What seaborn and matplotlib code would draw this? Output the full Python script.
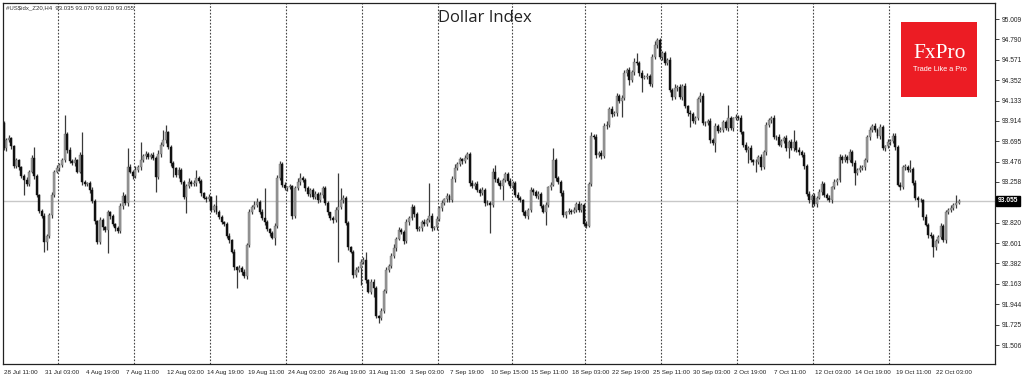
import numpy as np
import pandas as pd
import seaborn as sns
import matplotlib
matplotlib.use("Agg")
import matplotlib.pyplot as plt
from matplotlib import transforms
from matplotlib.patches import Rectangle

# ---------------- data (H4 candles, #US$idx) ----------------
first_open = 93.89
closes = [
    93.62, 93.71, 93.73, 93.64, 93.43, 93.49, 93.42, 93.32, 93.28, 93.24,
    93.37, 93.52, 93.32, 93.12, 92.95, 92.89, 92.61, 92.68, 92.90, 93.12,
    93.37, 93.41, 93.44, 93.49, 93.77, 93.60, 93.48, 93.46, 93.49, 93.37,
    93.55, 93.26, 93.24, 93.25, 93.17, 93.05, 92.84, 92.61, 92.85, 92.77,
    92.74, 92.93, 92.89, 92.81, 92.76, 92.73, 93.00, 93.11, 93.03, 93.42,
    93.37, 93.32, 93.39, 93.42, 93.49, 93.54, 93.56, 93.53, 93.55, 93.52,
    93.31, 93.56, 93.66, 93.71, 93.79, 93.63, 93.46, 93.41, 93.33, 93.39,
    93.26, 93.10, 93.21, 93.26, 93.24, 93.25, 93.30, 93.27, 93.14, 93.09,
    93.07, 93.10, 92.96, 93.00, 92.94, 92.88, 92.83, 92.81, 92.68, 92.63,
    92.51, 92.34, 92.31, 92.33, 92.29, 92.25, 92.58, 92.94, 92.99, 93.01,
    93.04, 92.94, 92.87, 92.83, 92.75, 92.71, 92.66, 92.79, 93.30, 93.45,
    93.23, 93.19, 93.20, 93.21, 92.89, 93.19, 93.26, 93.30, 93.28, 93.19,
    93.13, 93.17, 93.10, 93.13, 93.06, 93.12, 93.19, 93.03, 92.93, 92.87,
    92.85, 92.96, 92.99, 93.06, 93.09, 92.82, 92.56, 92.51, 92.26, 92.31,
    92.33, 92.40, 92.42, 92.20, 92.08, 92.18, 92.12, 91.82, 91.80, 91.87,
    92.09, 92.31, 92.36, 92.46, 92.55, 92.65, 92.74, 92.72, 92.62, 92.83,
    92.87, 92.99, 92.91, 92.75, 92.76, 92.83, 92.81, 92.85, 92.89, 92.76,
    92.77, 92.86, 92.98, 93.03, 93.07, 93.11, 93.06, 93.29, 93.41, 93.45,
    93.50, 93.48, 93.52, 93.56, 93.25, 93.21, 93.24, 93.17, 93.14, 93.17,
    93.03, 93.03, 93.01, 93.37, 93.29, 93.25, 93.21, 93.28, 93.34, 93.27,
    93.21, 93.25, 93.12, 93.09, 93.06, 92.93, 92.89, 92.96, 93.17, 93.15,
    93.11, 93.13, 93.00, 92.94, 93.01, 93.20, 93.23, 93.49, 93.30, 93.26,
    93.14, 92.90, 92.93, 92.95, 92.94, 92.96, 93.02, 92.96, 93.01, 92.81,
    92.79, 93.24, 93.75, 93.74, 93.55, 93.57, 93.54, 93.86, 93.87, 94.04,
    93.99, 94.00, 94.18, 94.13, 94.16, 94.43, 94.46, 94.35, 94.44, 94.55,
    94.54, 94.43, 94.38, 94.39, 94.40, 94.31, 94.60, 94.73, 94.78, 94.60,
    94.64, 94.54, 94.57, 94.25, 94.17, 94.27, 94.28, 94.17, 94.29, 94.07,
    94.00, 93.99, 93.91, 93.94, 94.15, 94.18, 93.89, 93.89, 93.91, 93.71,
    93.68, 93.86, 93.81, 93.82, 93.90, 93.84, 93.94, 93.84, 93.94, 93.96,
    93.95, 93.79, 93.66, 93.60, 93.62, 93.49, 93.47, 93.47, 93.53, 93.42,
    93.58, 93.87, 93.92, 93.95, 93.74, 93.74, 93.66, 93.70, 93.73, 93.62,
    93.69, 93.62, 93.69, 93.60, 93.58, 93.55, 93.43, 93.13, 93.06, 93.11,
    93.02, 93.09, 93.15, 93.24, 93.12, 93.09, 93.06, 93.20, 93.26, 93.28,
    93.53, 93.49, 93.53, 93.49, 93.58, 93.46, 93.35, 93.39, 93.41, 93.42,
    93.49, 93.74, 93.82, 93.86, 93.82, 93.75, 93.85, 93.62, 93.64, 93.69,
    93.70, 93.75, 93.63, 93.23, 93.20, 93.42, 93.42, 93.39, 93.40, 93.25,
    93.09, 93.06, 93.06, 92.88, 92.80, 92.69, 92.68, 92.56, 92.62, 92.67,
    92.79, 92.63, 92.93, 92.96, 92.98, 93.01, 93.035, 93.055,
]
# wick lengths above / below the body, in hundredths of a point
upper_wick = [
    2, 2, 3, 1, 2, 3, 2, 1, 2, 3, 2, 3, 11, 2, 1, 2, 3, 2, 2, 3,
    2, 3, 2, 3, 21, 2, 3, 2, 4, 2, 3, 25, 2, 1, 2, 3, 2, 1, 3, 2,
    2, 3, 2, 2, 1, 2, 3, 4, 2, 20, 3, 2, 4, 2, 20, 2, 3, 2, 2, 3,
    2, 4, 3, 11, 8, 2, 3, 2, 1, 3, 2, 2, 3, 4, 2, 3, 9, 2, 2, 1,
    2, 3, 1, 2, 12, 2, 2, 1, 2, 3, 2, 3, 2, 4, 2, 3, 2, 3, 2, 4,
    5, 2, 3, 32, 2, 1, 2, 3, 3, 3, 2, 3, 2, 3, 2, 3, 4, 5, 2, 2,
    3, 2, 2, 3, 2, 3, 3, 2, 2, 1, 2, 3, 36, 13, 3, 2, 2, 1, 2, 3,
    2, 3, 3, 9, 2, 3, 4, 2, 1, 3, 2, 3, 2, 3, 4, 2, 3, 2, 2, 3,
    2, 3, 2, 2, 3, 2, 3, 2, 36, 3, 2, 3, 2, 3, 2, 3, 2, 3, 4, 2,
    3, 2, 3, 2, 2, 3, 2, 3, 2, 3, 2, 3, 2, 4, 7, 2, 3, 2, 3, 2,
    3, 2, 2, 3, 2, 2, 3, 2, 3, 2, 2, 3, 2, 2, 3, 2, 3, 13, 3, 2,
    2, 3, 2, 3, 2, 3, 2, 3, 2, 2, 3, 2, 4, 2, 3, 2, 3, 3, 4, 2,
    3, 2, 3, 2, 3, 3, 2, 3, 2, 4, 9, 2, 3, 2, 3, 2, 3, 4, 2, 3,
    2, 3, 2, 3, 2, 4, 2, 3, 2, 3, 2, 3, 2, 3, 2, 4, 3, 2, 2, 3,
    2, 3, 2, 3, 2, 2, 15, 3, 2, 3, 2, 3, 2, 3, 2, 3, 2, 3, 2, 3,
    2, 3, 3, 2, 3, 2, 3, 2, 2, 3, 2, 3, 13, 2, 3, 2, 3, 2, 3, 2,
    3, 2, 3, 3, 2, 2, 3, 2, 3, 2, 3, 2, 3, 2, 3, 2, 3, 2, 3, 2,
    3, 2, 3, 2, 3, 2, 3, 2, 2, 3, 2, 3, 3, 2, 3, 2, 3, 2, 9, 2,
    3, 2, 3, 2, 3, 2, 3, 2, 3, 2, 3, 2, 3, 2, 3, 2, 8, 1.5,
]
lower_wick = [
    2, 3, 2, 3, 2, 2, 3, 2, 16, 3, 2, 2, 3, 2, 3, 2, 10, 8, 2, 3,
    2, 2, 3, 2, 2, 3, 2, 2, 3, 2, 2, 3, 2, 2, 3, 2, 3, 2, 2, 3,
    2, 24, 3, 2, 3, 2, 2, 3, 2, 3, 2, 3, 2, 2, 3, 2, 3, 2, 2, 3,
    16, 2, 3, 2, 3, 2, 3, 10, 2, 3, 2, 3, 18, 2, 3, 2, 3, 2, 3, 2,
    3, 2, 3, 2, 3, 2, 2, 3, 2, 3, 2, 3, 19, 2, 3, 2, 3, 2, 3, 2,
    2, 3, 2, 3, 2, 3, 2, 8, 3, 2, 3, 2, 3, 2, 3, 2, 2, 3, 2, 3,
    2, 3, 2, 2, 3, 2, 3, 2, 3, 2, 3, 2, 56, 2, 3, 2, 3, 2, 3, 2,
    2, 18, 2, 3, 2, 3, 10, 2, 6, 3, 2, 3, 2, 3, 2, 3, 2, 2, 3, 2,
    3, 2, 3, 2, 2, 3, 2, 3, 2, 3, 2, 3, 2, 3, 2, 3, 2, 2, 3, 2,
    2, 3, 2, 2, 3, 2, 3, 2, 3, 2, 3, 2, 30, 2, 3, 2, 3, 15, 2, 3,
    2, 3, 2, 3, 2, 3, 2, 3, 2, 3, 2, 3, 2, 2, 14, 2, 3, 2, 3, 2,
    3, 2, 3, 2, 3, 2, 3, 2, 3, 2, 3, 2, 3, 2, 3, 2, 3, 2, 3, 2,
    3, 2, 3, 2, 17, 2, 3, 5, 2, 3, 2, 3, 15, 2, 3, 2, 3, 2, 3, 2,
    3, 2, 3, 2, 3, 2, 3, 2, 3, 2, 3, 14, 2, 3, 2, 3, 2, 3, 2, 3,
    2, 10, 3, 2, 3, 2, 3, 2, 3, 2, 3, 2, 3, 2, 14, 2, 3, 11, 2, 3,
    2, 3, 2, 3, 2, 3, 2, 3, 2, 3, 10, 2, 3, 2, 3, 2, 3, 2, 3, 7,
    2, 3, 2, 3, 2, 3, 2, 3, 2, 3, 2, 3, 2, 3, 2, 3, 12, 2, 3, 2,
    3, 2, 3, 2, 3, 2, 3, 2, 3, 2, 3, 2, 3, 2, 3, 2, 3, 2, 3, 2,
    3, 7, 2, 3, 2, 3, 2, 11, 3, 2, 3, 2, 3, 2, 3, 2, 3, 1.5,
]
date_labels = [
    "28 Jul 11:00", "31 Jul 03:00", "4 Aug 19:00", "7 Aug 11:00", "12 Aug 03:00",
    "14 Aug 19:00", "19 Aug 11:00", "24 Aug 03:00", "26 Aug 19:00", "31 Aug 11:00",
    "3 Sep 03:00", "7 Sep 19:00", "10 Sep 15:00", "15 Sep 11:00", "18 Sep 03:00",
    "22 Sep 19:00", "25 Sep 11:00", "30 Sep 03:00", "2 Oct 19:00", "7 Oct 11:00",
    "12 Oct 03:00", "14 Oct 19:00", "19 Oct 11:00", "22 Oct 03:00",
]
bars_per_label = 16
week_start_bars = [22, 52, 82, 112, 142, 172, 201, 230, 260, 290, 320, 350]
price_ticks = [95.009, 94.790, 94.571, 94.352, 94.133, 93.914, 93.695, 93.476,
               93.258, 92.820, 92.601, 92.382, 92.163, 91.944, 91.725, 91.506]
last_price = 93.055
header = "#US$idx_Z20,H4  93.035 93.070 93.020 93.055"
title = "Dollar Index"

# ---------------- frame ----------------
c = np.array(closes, dtype=float)
o = np.concatenate([[first_open], c[:-1]])
hi = np.maximum(o, c) + np.array(upper_wick) / 100.0
lo = np.minimum(o, c) - np.array(lower_wick) / 100.0
df = pd.DataFrame({"bar": np.arange(len(c)), "open": o, "high": hi, "low": lo, "close": c})
df["bull"] = df["close"] >= df["open"]

sns.set_style("white")
plt.rcParams["font.family"] = ["Liberation Sans", "DejaVu Sans"]

W, H = 1024, 377
fig = plt.figure(figsize=(W / 100, H / 100), dpi=100)
ax = fig.add_axes([3 / W, 13 / H, 992 / W, 361 / H])
ax.set_xlim(-0.2, 391.4)
ax.set_ylim(91.302, 95.181)

# current-price line and weekly separators
ax.axhline(last_price, color="#c8c8c8", lw=1.0, zorder=0)
for b in week_start_bars:
    ax.axvline(b - 0.4, color="#444444", lw=0.8, ls=(0, (1.5, 1.5)), zorder=0.5)

# candles
ax.vlines(df["bar"], df["low"], df["high"], color="#3a3a3a", lw=0.9, zorder=1)
body = np.maximum((df["close"] - df["open"]).abs(), 0.006)
bottom = np.minimum(df["open"], df["close"])
bull = df["bull"].values
ax.bar(df["bar"][bull], body[bull], bottom=bottom[bull], width=0.78,
       color="#9a9a9a", edgecolor="#6a6a6a", linewidth=0.3, zorder=2)
ax.bar(df["bar"][~bull], body[~bull], bottom=bottom[~bull], width=0.78,
       color="#111111", edgecolor="#111111", linewidth=0.3, zorder=2)

# axes styling
for sp in ax.spines.values():
    sp.set_color("#222222")
    sp.set_linewidth(0.9)
ax.grid(False)
ax.yaxis.tick_right()
ax.set_yticks(price_ticks)
ax.set_yticklabels([f"{v:.3f}" for v in price_ticks], fontsize=4.8, color="#222222")
ax.tick_params(axis="y", direction="out", length=3, width=0.6, pad=1.5, colors="#222222")

ax.set_xticks(np.arange(len(date_labels)) * bars_per_label - 0.3)
ax.set_xticklabels(date_labels, fontsize=4.5, color="#222222")
ax.tick_params(axis="x", direction="out", length=3, width=0.6, pad=1.5, colors="#222222")
off = transforms.ScaledTranslation(1.5 / 100, 0, fig.dpi_scale_trans)
for lab in ax.get_xticklabels():
    lab.set_horizontalalignment("left")
    lab.set_transform(lab.get_transform() + off)

# last price box
bt = transforms.blended_transform_factory(ax.transAxes, ax.transData)
ax.text(1.0 + 3 / 992, last_price, f"{last_price:.3f}", transform=bt, ha="left", va="center",
        fontsize=4.8, color="white", fontweight="bold",
        bbox=dict(boxstyle="square,pad=0.25", fc="black", ec="black"), zorder=5, clip_on=False)

# texts
fig.text(6 / W, 1 - 7.5 / H, header, fontsize=4.3, va="center", ha="left", color="#333333",
         parse_math=False)
fig.text(485 / W, 1 - 18 / H, title, fontsize=12, va="center", ha="center",
         family=["Open Sans", "DejaVu Sans"], color="#222222")

# FxPro badge
fig.add_artist(Rectangle((901 / W, 1 - 97 / H), 76 / W, 75 / H, transform=fig.transFigure,
                         facecolor="#ec1c24", edgecolor="none", zorder=6))
fig.text(939.5 / W, 1 - 54 / H, "FxPro", fontsize=15.5, ha="center", va="center",
         color="white", family=["Liberation Serif", "DejaVu Serif"], zorder=7)
fig.text(939.5 / W, 1 - 69.5 / H, "Trade Like a Pro", fontsize=5.3, ha="center", va="center",
         color="white", zorder=7)

fig.savefig("out.png", dpi=100)
